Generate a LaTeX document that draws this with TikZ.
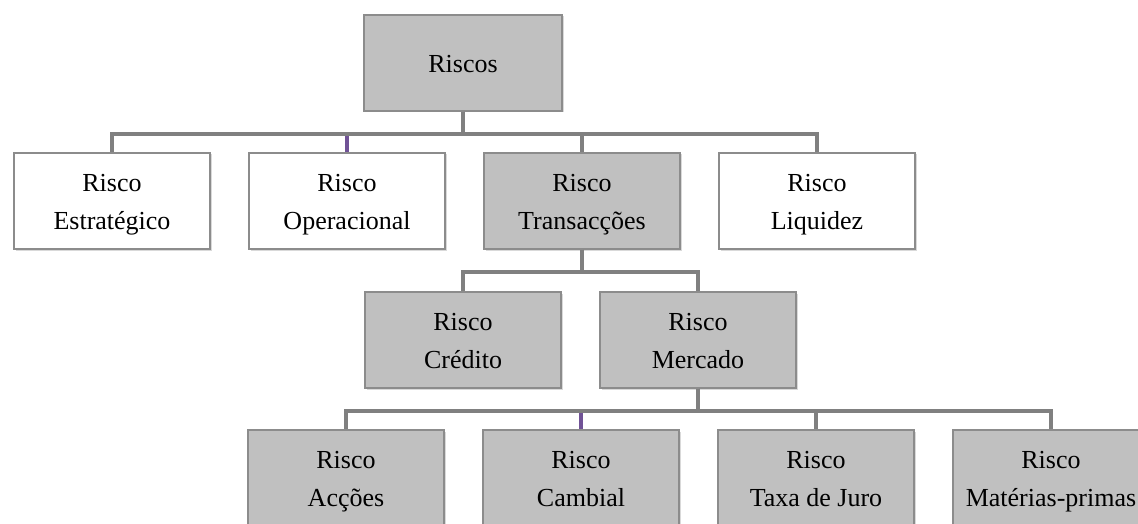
\documentclass[tikz,border=0pt]{standalone}
\usepackage{fontspec}
\setmainfont{Liberation Serif}
\usetikzlibrary{shadows}
\definecolor{linkgrey}{RGB}{128,128,128}
\definecolor{linkpurple}{RGB}{112,82,150}
\definecolor{boxgrey}{RGB}{192,192,192}
\definecolor{edgegrey}{RGB}{140,140,140}

\begin{document}
\begin{tikzpicture}[x=1pt,y=-1pt,node distance=235pt,
    whitebox/.style={rectangle,draw=edgegrey,line width=1.2pt,fill=white,
        minimum width=196pt,minimum height=96pt,inner sep=0pt,align=center,
        font=\fontsize{26}{38}\selectfont,text height=65pt,text depth=8pt,
        drop shadow={shadow xshift=1.5pt,shadow yshift=-1.5pt,opacity=0.3}},
    greybox/.style={whitebox,fill=boxgrey},
    elbow/.style={to path={(\tikztostart.south) -- ++(0,22) -| (\tikztotarget.north)}},
    link/.style={draw=linkgrey,line width=4pt},
    linkp/.style={draw=linkpurple}]
                \useasboundingbox (0,0) rectangle (1138,524);
                \clip (0,0) rectangle (1138,524);

                \node[greybox, minimum width=198pt, text height=27pt] (riscos) at (463,63) {Riscos};
                \node[whitebox] (operacional) at (347,201) {Risco\\Operacional};
                \node[whitebox] (estrategico) [left of = operacional] {Risco\\Estratégico};
                \node[greybox] (transaccoes) [right of = operacional] {Risco\\Transacções};
                \node[whitebox] (liquidez) [right of = transaccoes] {Risco\\Liquidez};
                \node[greybox] (credito) at (463,340) {Risco\\Crédito};
                \node[greybox] (mercado) [right of = credito] {Risco\\Mercado};
                \node[greybox] (accoes) at (346,478) {Risco\\Acções};
                \node[greybox] (cambial) [right of = accoes] {Risco\\Cambial};
                \node[greybox] (taxa) [right of = cambial] {Risco\\Taxa de Juro};
                \node[greybox] (materias) [right of = taxa] {Risco\\Matérias-primas};

                \path[link]
                (riscos) edge[elbow, linkp] (operacional)
                    edge[elbow] (estrategico)
                    edge[elbow] (transaccoes)
                    edge[elbow] (liquidez)
                (transaccoes) edge[elbow] (credito)
                    edge[elbow] (mercado)
                (mercado) edge[elbow, linkp] (cambial)
                    edge[elbow] (accoes)
                    edge[elbow] (taxa)
                    edge[elbow] (materias)
                ;
            \end{tikzpicture}
\end{document}
